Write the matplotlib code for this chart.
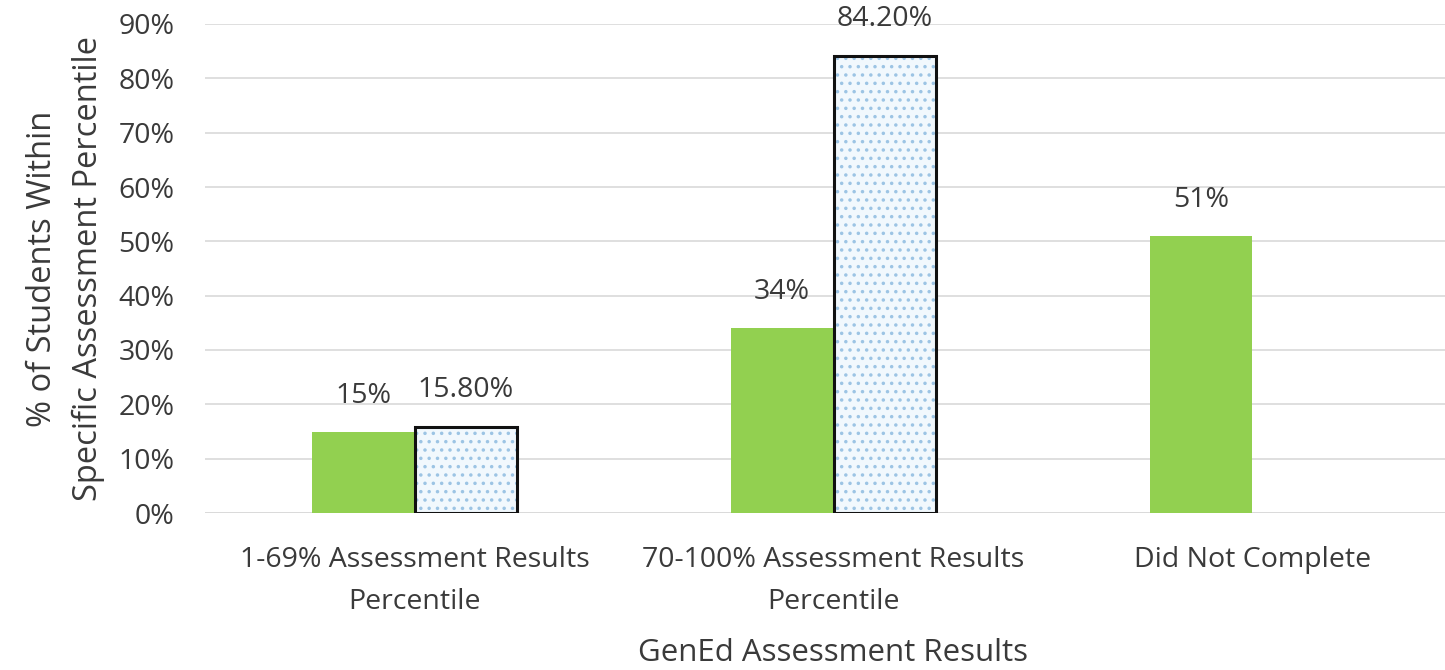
import matplotlib
matplotlib.use("Agg")
import matplotlib.pyplot as plt
import numpy as np

categories = ["1-69% Assessment Results\nPercentile", "70-100% Assessment Results\nPercentile", "Did Not Complete"]
series_a = [0.15, 0.34, 0.51]
series_b = [0.158, 0.842, None]
labels_a = ["15%", "34%", "51%"]
labels_b = ["15.80%", "84.20%", None]
yticks = [0.0, 0.1, 0.2, 0.3, 0.4, 0.5, 0.6, 0.7, 0.8, 0.9]

plt.rcParams['font.family'] = ['Open Sans', 'DejaVu Sans']
plt.rcParams['hatch.linewidth'] = 1.3

fig = plt.figure(figsize=(14.45, 6.7), dpi=100)
ax = fig.add_axes([205/1445, 1-513/670, (1462-205)/1445, (513-24)/670])

x = np.arange(len(categories))
w = 0.245
green = '#92d050'
txtc = '#3a3a3a'
fs = 20.5

for i in range(len(categories)):
    ax.bar(x[i] - w/2, series_a[i], width=w, color=green, zorder=3)
    ax.text(x[i] - w/2, series_a[i] + 0.066, labels_a[i], ha='center', va='center', fontsize=fs, color=txtc)
    if series_b[i] is not None:
        ax.bar(x[i] + w/2, series_b[i], width=w, facecolor='#f1f8fd', edgecolor='#9cc4e4',
               linewidth=0, hatch='..', zorder=3)
        ax.bar(x[i] + w/2, series_b[i], width=w, fill=False, edgecolor='#111111',
               linewidth=2.2, zorder=4)
        ax.text(x[i] + w/2, series_b[i] + 0.068, labels_b[i], ha='center', va='center', fontsize=fs, color=txtc)

ax.set_xlim(-0.5, 2.5)
ax.set_ylim(0, 0.9)
ax.set_yticks(yticks)
ax.set_yticklabels([f"{int(round(t*100))}%" for t in yticks], fontsize=fs, color=txtc)
ax.set_xticks(x)
ax.set_xticklabels(categories, fontsize=fs, color=txtc, linespacing=1.65)
ax.tick_params(axis='both', length=0)
ax.tick_params(axis='x', pad=24)
ax.tick_params(axis='y', pad=22)
ax.yaxis.grid(True, color='#d9d9d9', linewidth=1.2, zorder=0)
for s in ax.spines.values():
    s.set_visible(False)
ax.axhline(0, color='#d9d9d9', linewidth=1.2, zorder=1)

ax.set_xlabel("GenEd Assessment Results", fontsize=22.5, color=txtc, labelpad=16)
ax.set_ylabel("% of Students Within\nSpecific Assessment Percentile", fontsize=23.5, color=txtc, labelpad=10, linespacing=1.5)

fig.savefig("out.png", dpi=100)
